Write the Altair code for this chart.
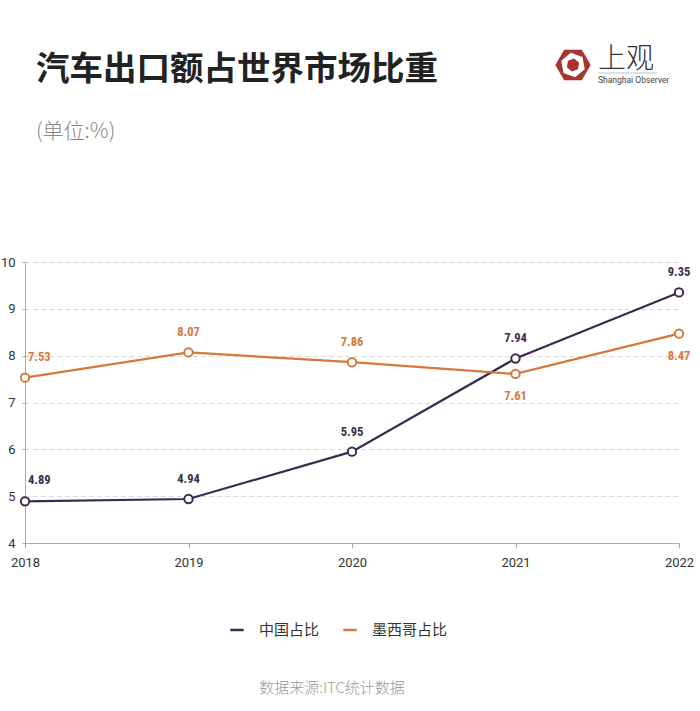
import altair as alt
import pandas as pd

years = ["2018", "2019", "2020", "2021", "2022"]
china = [4.89, 4.94, 5.95, 7.94, 9.35]
mexico = [7.53, 8.07, 7.86, 7.61, 8.47]
series_names = ["中国占比", "墨西哥占比"]
colors = ["#3d2b4d", "#d6773b"]
y_ticks = [4, 5, 6, 7, 8, 9, 10]

title_text = "汽车出口额占世界市场比重"
subtitle_text = "(单位:%)"
source_text = "数据来源:ITC统计数据"

rows = []
for name, vals in zip(series_names, [china, mexico]):
    for yr, v in zip(years, vals):
        rows.append({"year": yr, "series": name, "value": v})
df = pd.DataFrame(rows)

FONT = "Noto Sans CJK SC"
NUMFONT = "Liberation Sans Narrow, Roboto Condensed, Roboto"
W, H = 654, 281

x = alt.X(
    "year:O",
    scale=alt.Scale(domain=years, padding=0),
    axis=alt.Axis(
        title=None, labelAngle=0, labelFontSize=13, labelColor="#333",
        labelFont="Roboto", domainColor="#aaa", tickColor="#aaa",
        tickSize=5, labelPadding=8, grid=False,
    ),
)
y = alt.Y(
    "value:Q",
    scale=alt.Scale(domain=[4, 10], nice=False, zero=False),
    axis=alt.Axis(
        values=y_ticks, title=None, grid=True, gridDash=[4, 4],
        gridColor="#d3d3d3", domainColor="#aaa", tickColor="#aaa",
        tickSize=3, labelPadding=7, labelFontSize=13, labelColor="#333",
        labelFont="Roboto",
    ),
)
color = alt.Color(
    "series:N",
    scale=alt.Scale(domain=series_names, range=colors),
    legend=alt.Legend(
        title=None, orient="none", legendX=204, legendY=360,
        direction="horizontal", symbolType="stroke", symbolSize=180,
        symbolStrokeWidth=2.5, labelFont=FONT, labelFontSize=15,
        labelColor="#333", labelOffset=14, columnPadding=18,
    ),
)

base = alt.Chart(df).encode(x=x, y=y, color=color)
lines = base.mark_line(strokeWidth=2.2)
points = base.mark_point(shape="circle", fill="white", filled=False,
                         strokeWidth=2, size=70, opacity=1)

lab = (
    alt.Chart(df)
    .transform_joinaggregate(maxv="max(value)", groupby=["year"])
    .transform_calculate(
        below=f"datum.series == '{series_names[1]}' && datum.value < datum.maxv"
    )
    .encode(
        x=x, y=y,
        text=alt.Text("value:Q", format=".2f"),
        color=alt.Color("series:N", scale=alt.Scale(domain=series_names, range=colors), legend=None),
    )
)
first = f"datum.year == '{years[0]}'"
lab_above_first = lab.transform_filter(f"!datum.below && {first}").mark_text(
    align="left", dx=3, dy=-21, font=NUMFONT, fontSize=12.5, fontWeight="bold")
lab_above = lab.transform_filter(f"!datum.below && !({first})").mark_text(
    align="center", dy=-20, font=NUMFONT, fontSize=12.5, fontWeight="bold")
lab_below = lab.transform_filter("datum.below").mark_text(
    align="center", dy=22, font=NUMFONT, fontSize=12.5, fontWeight="bold")

one = pd.DataFrame({"k": [0]})
ann = alt.Chart(one)
title = ann.mark_text(text=title_text, font=FONT, fontSize=33.5, fontWeight="bold",
                      color="#222", align="left", baseline="middle").encode(
    x=alt.value(11), y=alt.value(-192))
subtitle = ann.mark_text(text=subtitle_text, font=FONT, fontSize=21, fontWeight=300,
                         color="#888", align="left", baseline="middle").encode(
    x=alt.value(11), y=alt.value(-130))
source = ann.mark_text(text=source_text, font=FONT, fontSize=15, fontWeight=300,
                       color="#999", align="center", baseline="middle").encode(
    x=alt.value(307), y=alt.value(426))

hexpath = "M-1,0L-0.5,-0.866L0.5,-0.866L1,0L0.5,0.866L-0.5,0.866Z"
logo_outer = ann.mark_point(shape=hexpath, filled=True, color="#a8342e", size=1250, opacity=1).encode(
    x=alt.value(548), y=alt.value(-197))
logo_mid = ann.mark_point(shape=hexpath, filled=True, color="white", size=620, opacity=1, angle=20).encode(
    x=alt.value(548), y=alt.value(-197))
logo_inner = ann.mark_point(shape=hexpath, filled=True, color="#a8342e", size=170, opacity=1, angle=40).encode(
    x=alt.value(548), y=alt.value(-197))
logo_text = ann.mark_text(text="上观", font=FONT, fontSize=28, fontWeight=300,
                          color="#333", align="left", baseline="middle").encode(
    x=alt.value(573), y=alt.value(-202))
logo_rule = ann.mark_rule(color="#999", strokeWidth=0.6).encode(
    x=alt.value(573), x2=alt.value(632), y=alt.value(-189))
logo_sub = ann.mark_text(text="Shanghai Observer", font="Roboto", fontSize=8.5,
                         color="#444", align="left", baseline="middle").encode(
    x=alt.value(573), y=alt.value(-182))

chart = alt.layer(
    lines, points, lab_above_first, lab_above, lab_below,
    title, subtitle, source, logo_outer, logo_mid, logo_inner, logo_text, logo_rule, logo_sub,
).properties(
    width=W, height=H,
    autosize=alt.AutoSizeParams(type="none"),
    padding={"left": 25, "top": 262, "right": 21, "bottom": 168},
    background="white",
).configure_view(stroke=None)

chart.save("out.html", embed_options={"renderer": "svg", "actions": False})
